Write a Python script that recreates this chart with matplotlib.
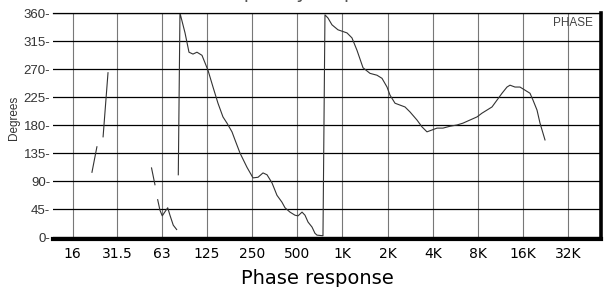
import matplotlib
matplotlib.use("Agg")
import matplotlib.pyplot as plt
from matplotlib.ticker import FuncFormatter, NullLocator

# eixo x: frequencias das linhas verticais
freq_ticks = [16, 31.5, 63, 125, 250, 500, 1000, 2000, 4000, 8000, 16000, 32000]
freq_labels = ["16", "31.5", "63", "125", "250", "500", "1K", "2K", "4K", "8K", "16K", "32K"]
# eixo y: graus
deg_ticks = [0, 45, 90, 135, 180, 225, 270, 315, 360]

# tracos soltos na parte grave (Hz, graus)
low1_hz = [21.5, 23.2]
low1_deg = [104, 145]
low2_hz = [25.5, 27.5]
low2_deg = [161, 264]
low3_hz = [53.6, 56.5]
low3_deg = [111, 84]
low4_hz = [58.9, 61.0, 63.2, 65.2, 68.7, 71.1, 74.8, 78.8]
low4_deg = [60, 43, 34, 39, 47, 35, 19, 12]

# curva principal (com os saltos de fase)
main_hz = [80.8, 82.9, 89.6, 95.2, 101.2, 107.6, 116.2, 127.4, 137.6, 148.5,
           160.3, 170.5, 184.1, 192.8, 208.1, 231.7, 254.1, 274.4, 296.2, 315,
           340, 367, 396, 415, 448, 484, 507, 539, 564, 591,
           628, 657, 678, 743, 766, 802, 853, 935, 1074, 1159,
           1252, 1373, 1528, 1701, 1837, 1984, 2077, 2243, 2421, 2614,
           2822, 3141, 3392, 3661, 3954, 4270, 4680, 5210, 5800, 6361,
           7080, 7885, 8509, 9190, 9925, 10715, 11570, 12490, 13080, 14117,
           15240, 16460, 17775, 18610, 19790, 20720, 22370]
main_deg = [100, 360, 328, 297, 294, 297, 292, 268, 241, 215,
            193, 183, 169, 156, 135, 112, 95, 96, 103, 100,
            87, 67, 56, 47, 40, 35, 34, 40, 35, 24,
            16, 6, 3, 2, 357, 352, 341, 333, 328, 320,
            300, 272, 263, 260, 255, 241, 228, 215, 212, 209,
            201, 188, 177, 169, 172, 175, 175, 178, 180, 183,
            188, 193, 199, 204, 209, 220, 231, 241, 244, 241,
            241, 236, 231, 220, 204, 183, 156]

fonte = "Liberation Sans"

fig = plt.figure(figsize=(6.11, 2.87), dpi=100)
ax = fig.add_axes([53 / 611, 50 / 287, 548 / 611, 224 / 287])

for xs, ys in [(low1_hz, low1_deg), (low2_hz, low2_deg), (low3_hz, low3_deg),
               (low4_hz, low4_deg), (main_hz, main_deg)]:
    ax.plot(xs, ys, color="#333333", linewidth=0.8)

ax.set_xscale("log")
ax.set_xlim(11.83, 52800)
ax.set_ylim(0, 360)
ax.set_xticks(freq_ticks)
ax.set_xticklabels(freq_labels, family=fonte, fontsize=9.5, color="#333333")
ax.xaxis.set_minor_locator(NullLocator())
ax.set_yticks(deg_ticks)
ax.yaxis.set_major_formatter(FuncFormatter(lambda v, p: "%d-" % v))
for lbl in ax.get_yticklabels():
    lbl.set_family(fonte)
    lbl.set_fontsize(9.5)
    lbl.set_color("#333333")
ax.tick_params(axis="x", length=0, pad=6)
ax.tick_params(axis="y", length=0, pad=2)

# grade: horizontais escuras, verticais cinza
ax.grid(axis="y", color="black", linewidth=0.9)
ax.grid(axis="x", color="#777777", linewidth=0.8)
ax.set_axisbelow(True)

ax.spines["left"].set_visible(False)
ax.spines["top"].set_linewidth(0.9)
ax.spines["right"].set_linewidth(2.6)
ax.spines["bottom"].set_linewidth(3)
ax.spines["bottom"].set_position(("outward", 1.5))

ax.text(0.985, 0.955, "PHASE", transform=ax.transAxes, ha="right", va="center",
        family=fonte, fontsize=8.5, color="#444444")

fig.text(14 / 611, 1 - 118 / 287, "Degrees", rotation=90, ha="center", va="center",
         family=fonte, fontsize=8.5, color="#333333")
fig.text(317 / 611, 3 / 287, "Phase response", ha="center", va="baseline",
         fontsize=14, color="black")
# titulo cortado no topo da imagem (como no original): so as pernas aparecem
fig.text(305 / 611, 1 + 2 / 287, "Frequency response", ha="center", va="baseline",
         fontsize=14, color="#555555")

fig.savefig("out.png", dpi=100)
